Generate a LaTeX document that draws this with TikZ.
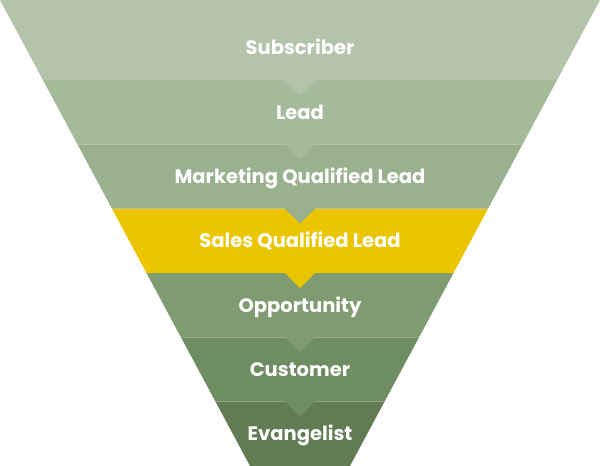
\documentclass[tikz,border=0pt]{standalone}
\usepackage{fontspec}
\setmainfont{Poppins}
\definecolor{subscriber}{RGB}{179,196,171}
\definecolor{lead}{RGB}{165,185,155}
\definecolor{mql}{RGB}{154,177,144}
\definecolor{sql}{RGB}{234,197,0}
\definecolor{opportunity}{RGB}{126,155,114}
\definecolor{customer}{RGB}{111,141,98}
\definecolor{evangelist}{RGB}{97,124,84}

\begin{document}
\begin{tikzpicture}[
      x=1pt, y=-1pt,
      stage/.style={font=\bfseries\fontsize{19.5}{23}\selectfont, text=white, inner sep=0pt,
                    text height=14pt, text depth=4pt}
  ]
    \useasboundingbox (0,0) rectangle (600,466);
    \clip (0,0) rectangle (600,466);
    % bands from the bottom up, so each notch lies over the band below
    \foreach \top/\bot/\col in {401.7/466/evangelist, 337.3/401.7/customer, 273/337.3/opportunity,
                                208.7/273/sql, 144.3/208.7/mql, 80/144.3/lead, 0/80/subscriber}{
      \pgfmathsetmacro\lt{\top*0.5365}
      \pgfmathsetmacro\lb{\bot*0.5365}
      \fill[\col] (\lt,\top) -- (600-\lt,\top) -- (600-\lb,\bot) -- (315,\bot) -- (300,\bot+15)
                  -- (285,\bot) -- (\lb,\bot) -- cycle;
    }
    \node[stage] (subscriber) at (300,49) {Subscriber};
    \node[stage] (lead) at (300,114) {Lead};
    \node[stage] (mql) at (300,178.5) {Marketing Qualified Lead};
    \node[stage] (sql) at (300,242.8) {Sales Qualified Lead};
    \node[stage] (opportunity) at (300,307.2) {Opportunity};
    \node[stage] (customer) at (300,371.5) {Customer};
    \node[stage] (evangelist) at (300,435.8) {Evangelist};
  \end{tikzpicture}
\end{document}
